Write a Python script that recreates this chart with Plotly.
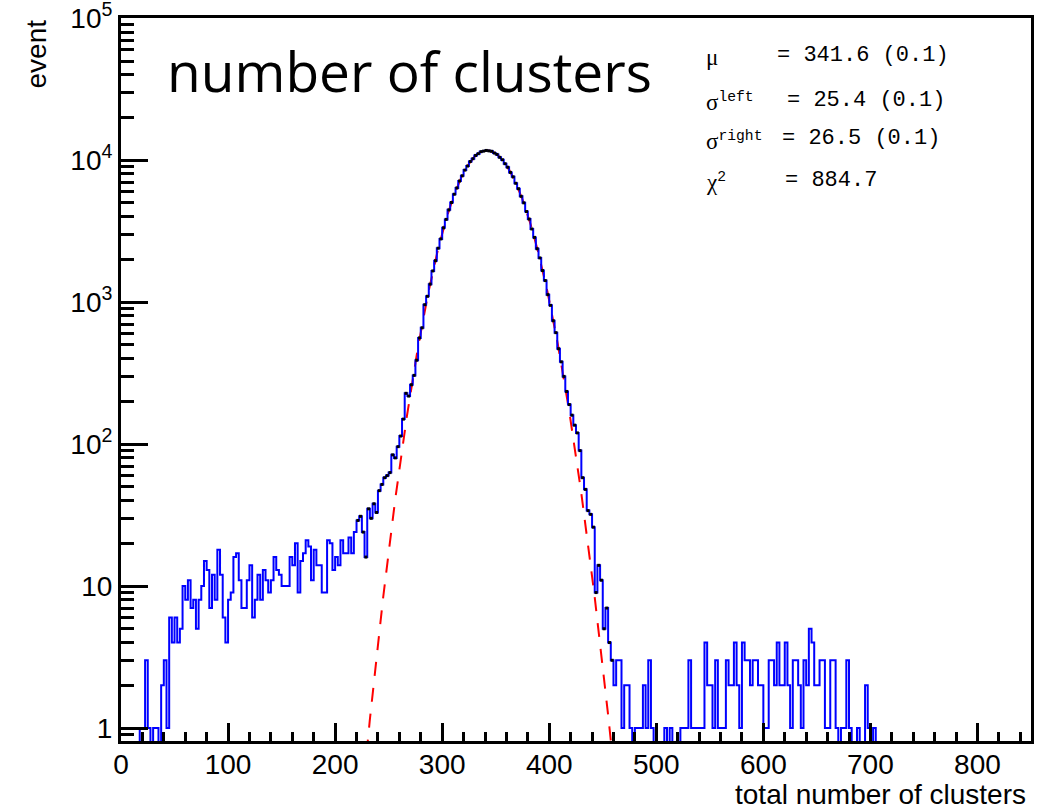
import numpy as np
import plotly.graph_objects as go

# Histogram binning: 340 bins of width 2.5 over [0, 850)
x_min, x_max = 0.0, 850.0
bin_width = 2.5

# bin contents, bins 0-97  (0 - 245 clusters)
counts_low = [
    0, 0, 0, 0, 0, 0, 0, 1, 1, 3, 1, 0, 1, 1, 0, 2, 3, 1, 6, 4,
    6, 4, 5, 10, 8, 11, 7, 8, 5, 8, 10, 15, 13, 7, 12, 8, 18, 12, 6, 4,
    8, 9, 16, 17, 11, 7, 7, 11, 14, 6, 8, 12, 8, 13, 11, 9, 11, 16, 13, 12,
    10, 10, 10, 16, 14, 20, 9, 15, 17, 21, 19, 11, 18, 14, 14, 9, 9, 21, 20, 13,
    16, 14, 21, 17, 17, 22, 17, 24, 29, 31, 24, 16, 35, 30, 38, 33, 47, 52,
]
# bins 98-183  (245 - 460 clusters)
counts_mid = [
    58, 60, 63, 84, 80, 96, 114, 150, 228, 218, 262, 305, 390, 560, 660, 960, 1100, 1340,
    1660, 1960, 2400, 2790, 3340, 3830, 4470, 5040, 5760, 6380, 7140, 7770, 8520, 9100,
    9790, 10250, 10810, 11120, 11490, 11600, 11720, 11640, 11560, 11240, 10990, 10480,
    10080, 9450, 8930, 8210, 7640, 6880, 6300, 5570, 5010, 4350, 3850, 3280, 2860, 2380,
    2050, 1670, 1420, 1130, 950, 740, 610, 470,
    380, 300, 235, 190, 160, 136, 120, 90, 58, 48, 34, 32, 26, 9, 14, 11, 5, 7, 4, 3,
]
# bins 184-281  (460 - 705 clusters); everything above is empty
counts_high = [
    2, 3, 3, 1, 2, 2, 1, 0, 1, 1, 1, 2, 1, 3, 1, 0, 0, 0, 0, 1,
    0, 1, 0, 0, 0, 1, 1, 1, 3, 1, 1, 1, 1, 1, 4, 2, 2, 1, 3, 1,
    1, 1, 3, 2, 2, 4, 2, 1, 4, 3, 3, 2, 3, 3, 2, 2, 1, 1, 3, 3,
    2, 4, 2, 2, 4, 2, 1, 3, 3, 2, 1, 3, 2, 5, 4, 2, 2, 3, 3, 1,
    1, 3, 3, 1, 0, 1, 1, 3, 1, 0, 0, 1, 0, 0, 2, 1, 0, 1,
]
assert len(counts_low) == 98 and len(counts_mid) == 86 and len(counts_high) == 98

# Asymmetric Gaussian fit result
fit_mu = 341.6
fit_sigma_left = 25.4
fit_sigma_right = 26.5
fit_norm = 11700.0
fit_chi2 = 884.7
fit_lo, fit_hi = 220.0, 460.0

y_ticks = [1, 10, 100, 1e3, 1e4, 1e5]
y_ticktext = ["1", "10", "10<sup>2</sup>", "10<sup>3</sup>", "10<sup>4</sup>", "10<sup>5</sup>"]
x_ticks = [0, 100, 200, 300, 400, 500, 600, 700, 800]

# ---------------------------------------------------------------------------
n_bins = int(round((x_max - x_min) / bin_width))
counts = np.array(counts_low + counts_mid + counts_high, dtype=float)
counts = np.concatenate([counts, np.zeros(n_bins - len(counts))])
edges = x_min + bin_width * np.arange(n_bins + 1)
centers = 0.5 * (edges[:-1] + edges[1:])

y_floor = 0.5  # empty bins drop below the visible range
step_y = np.where(counts > 0, counts, y_floor)
step_y = np.append(step_y, step_y[-1])

xf = np.linspace(fit_lo, fit_hi, 800)
sig = np.where(xf < fit_mu, fit_sigma_left, fit_sigma_right)
yf = fit_norm * np.exp(-0.5 * ((xf - fit_mu) / sig) ** 2)

in_fit = (centers >= fit_lo) & (centers <= fit_hi) & (counts > 0)

fig = go.Figure()
fig.add_trace(go.Scatter(
    x=xf, y=yf, mode="lines",
    line=dict(color="#ff0000", width=2, dash="14px,12px"),
    hoverinfo="skip", showlegend=False,
))
fig.add_trace(go.Scatter(
    x=edges, y=step_y, mode="lines", line_shape="hv",
    line=dict(color="#0000ff", width=2),
    showlegend=False,
))
fig.add_trace(go.Scatter(
    x=centers[in_fit], y=counts[in_fit], mode="markers",
    marker=dict(symbol="square", size=3, color="black"),
    showlegend=False,
))

tick_font = dict(family="Liberation Sans, Arial, sans-serif", size=28, color="black")

y_minor = [0.9] + [m * 10 ** k for k in range(0, 5) for m in range(2, 10)]

fig.update_xaxes(
    range=[x_min, x_max], automargin=False,
    showline=True, linewidth=3, linecolor="black", mirror=True,
    ticks="inside", ticklen=18, tickwidth=3, tickcolor="black",
    tickmode="array", tickvals=x_ticks,
    minor=dict(ticks="inside", dtick=20, tick0=0, ticklen=9, tickwidth=3,
               tickcolor="black", showgrid=False),
    showgrid=False, zeroline=False,
    tickfont=tick_font, ticklabelstandoff=-4,
)
fig.update_yaxes(
    type="log", range=[np.log10(0.81), 5.002], automargin=False,
    showline=True, linewidth=3, linecolor="black", mirror=True,
    ticks="inside", ticklen=27, tickwidth=3, tickcolor="black",
    tickmode="array", tickvals=y_ticks, ticktext=y_ticktext,
    minor=dict(ticks="inside", tickvals=y_minor, ticklen=13, tickwidth=3,
               tickcolor="black", showgrid=False),
    showgrid=False, zeroline=False,
    tickfont=tick_font, ticklabelstandoff=0, ticklabeloverflow="allow",
)

L, R, T, B = 121, 9, 18, 68
W, H = 1040, 809
pw, ph = W - L - R, H - T - B


def px(xp):
    return (xp - L) / pw


def py(yp):
    return (H - B - yp) / ph


mono = "Liberation Mono, DejaVu Sans Mono, monospace"
serif = "Liberation Serif, DejaVu Serif, serif"

annotations = [
    dict(text="number of clusters", x=px(165), y=py(71), xanchor="left", yanchor="middle",
         font=dict(family="Open Sans, sans-serif", size=55, color="black")),
    dict(text="total number of clusters", x=px(1028), y=py(794), xanchor="right",
         yanchor="middle", font=dict(family="Liberation Sans, Arial, sans-serif", size=28,
                                     color="black")),
    dict(text="event", textangle=-90, x=px(36), y=1.0, xanchor="center", yanchor="top",
         font=dict(family="Liberation Sans, Arial, sans-serif", size=28, color="black")),
]

stat_rows = [
    ("μ", "", 775, 55, f"= {fit_mu:.1f} (0.1)"),
    ("σ", "left", 785, 100, f"= {fit_sigma_left:.1f} (0.1)"),
    ("σ", "right", 780, 139, f"= {fit_sigma_right:.1f} (0.1)"),
    ("χ", "2", 783, 180, f"= {fit_chi2:.1f}"),
]
for sym, sup, xval, yrow, val in stat_rows:
    label = f'<span style="font-family:{serif};font-size:23px">{sym}</span>'
    if sup:
        label += f"<sup>{sup}</sup>"
    annotations.append(dict(text=label, x=px(704), y=py(yrow + 2), xanchor="left",
                            yanchor="middle", font=dict(family=mono, size=21, color="black")))
    annotations.append(dict(text=val, x=px(xval), y=py(yrow), xanchor="left",
                            yanchor="middle", font=dict(family=mono, size=22, color="black")))

for a in annotations:
    a.update(xref="paper", yref="paper", showarrow=False)

fig.update_layout(
    width=W, height=H,
    margin=dict(l=L, r=R, t=T, b=B, autoexpand=False),
    paper_bgcolor="white", plot_bgcolor="white",
    annotations=annotations,
    showlegend=False,
)

fig.write_html("out.html")
